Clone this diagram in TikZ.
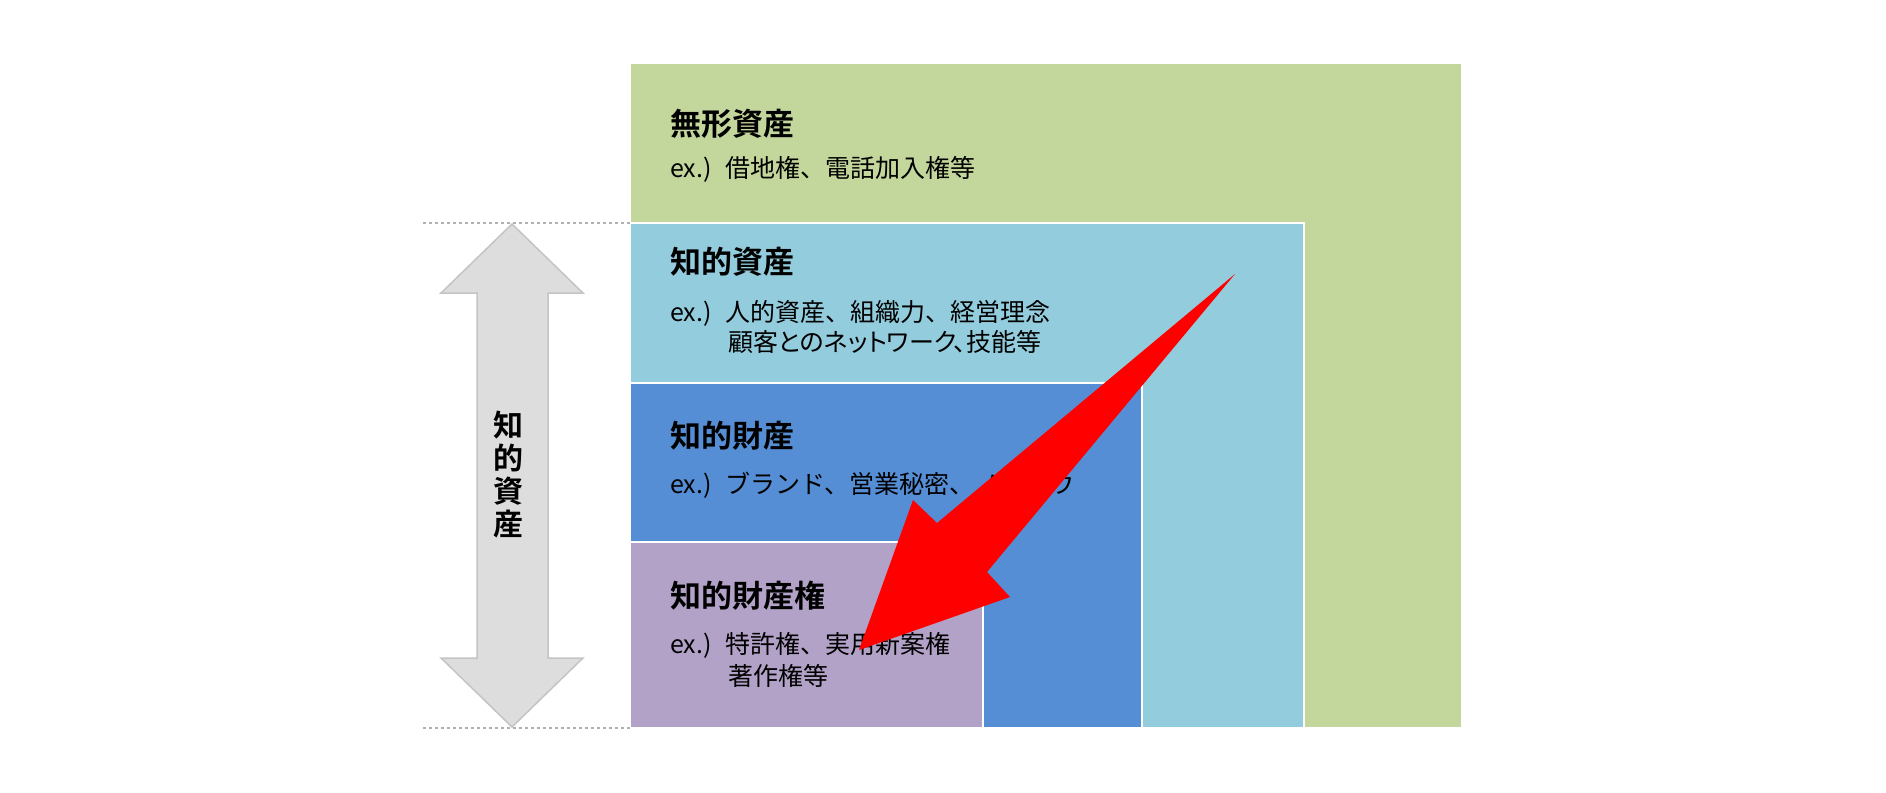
\documentclass[tikz,border=0pt]{standalone}
\usepackage{fontspec}
\setmainfont{Noto Sans CJK JP}[BoldFont={Noto Sans CJK JP Bold}]
\usepackage{tikz}
\usetikzlibrary{positioning}
\definecolor{mukei}{HTML}{C3D69B}
\definecolor{chiteki}{HTML}{93CDDD}
\definecolor{zaisan}{HTML}{558ED5}
\definecolor{kenri}{HTML}{B3A2C7}
\definecolor{yajirushi}{HTML}{DDDDDD}
\definecolor{fuchi}{HTML}{C4C4C4}
\newcommand{\ex}{ex.)\hspace{14pt}}

\begin{document}
\begin{tikzpicture}[x=1pt, y=-1pt,
		box/.style={draw=white, line width=2pt},
		title/.style={anchor=base west, inner sep=0pt, font=\fontsize{31}{31}\selectfont\bfseries},
		note/.style={anchor=base west, inner sep=0pt, font=\fontsize{25}{25}\selectfont}]
		\useasboundingbox (0,0) rectangle (1886,792);
		% nested boxes
		\draw [box, fill=mukei] (630,63) rectangle (1462,728);
		\draw [box, fill=chiteki] (630,223) rectangle (1304,728);
		\draw [box, fill=zaisan] (630,383) rectangle (1142,728);
		\draw [box, fill=kenri] (630,542) rectangle (983,728);
		% dashed guides
		\draw [dashed, fuchi!90!black, line width=1.5pt] (423,223) -- (630,223);
		\draw [dashed, fuchi!90!black, line width=1.5pt] (423,728) -- (630,728);
		% up-down arrow
		\draw [fill=yajirushi, draw=fuchi, line width=1.5pt] (512,224) -- (583,293) -- (548,293) -- (548,658) -- (583,658)
			-- (512,727) -- (441,658) -- (477,658) -- (477,293) -- (441,293) -- cycle;
		\node [align=center, inner sep=0pt, font=\fontsize{30}{33}\selectfont\bfseries] (side) at (508,475) {知\\的\\資\\産};
		% texts
		\node [title] (mukeiT) at (670,135) {無形資産};
		\node [note] (mukeiN) at (670,177) {\ex 借地権、電話加入権等};
		\node [title] (chitekiT) at (670,273) {知的資産};
		\node [note] (chitekiN) at (670,321) {\ex 人的資産、組織力、経営理念};
		\node [note] (chitekiM) at (728,351) {\addfontfeatures{RawFeature=+palt}顧客とのネットワーク、技能等};
		\node [title] (zaisanT) at (670,447) {知的財産};
		\node [note] (zaisanN) at (670,493) {\ex ブランド、営業秘密、ノウハウ};
		\node [title] (kenriT) at (670,607) {知的財産権};
		\node [note] (kenriN) at (670,653) {\ex 特許権、実用新案権};
		\node [note] (kenriM) at (728,685) {著作権等};
		% red arrow
		\fill [red] (1235,274) -- (987,572) -- (1010,597) -- (859,650) -- (913,500) -- (937,523) -- cycle;
	\end{tikzpicture}
\end{document}
